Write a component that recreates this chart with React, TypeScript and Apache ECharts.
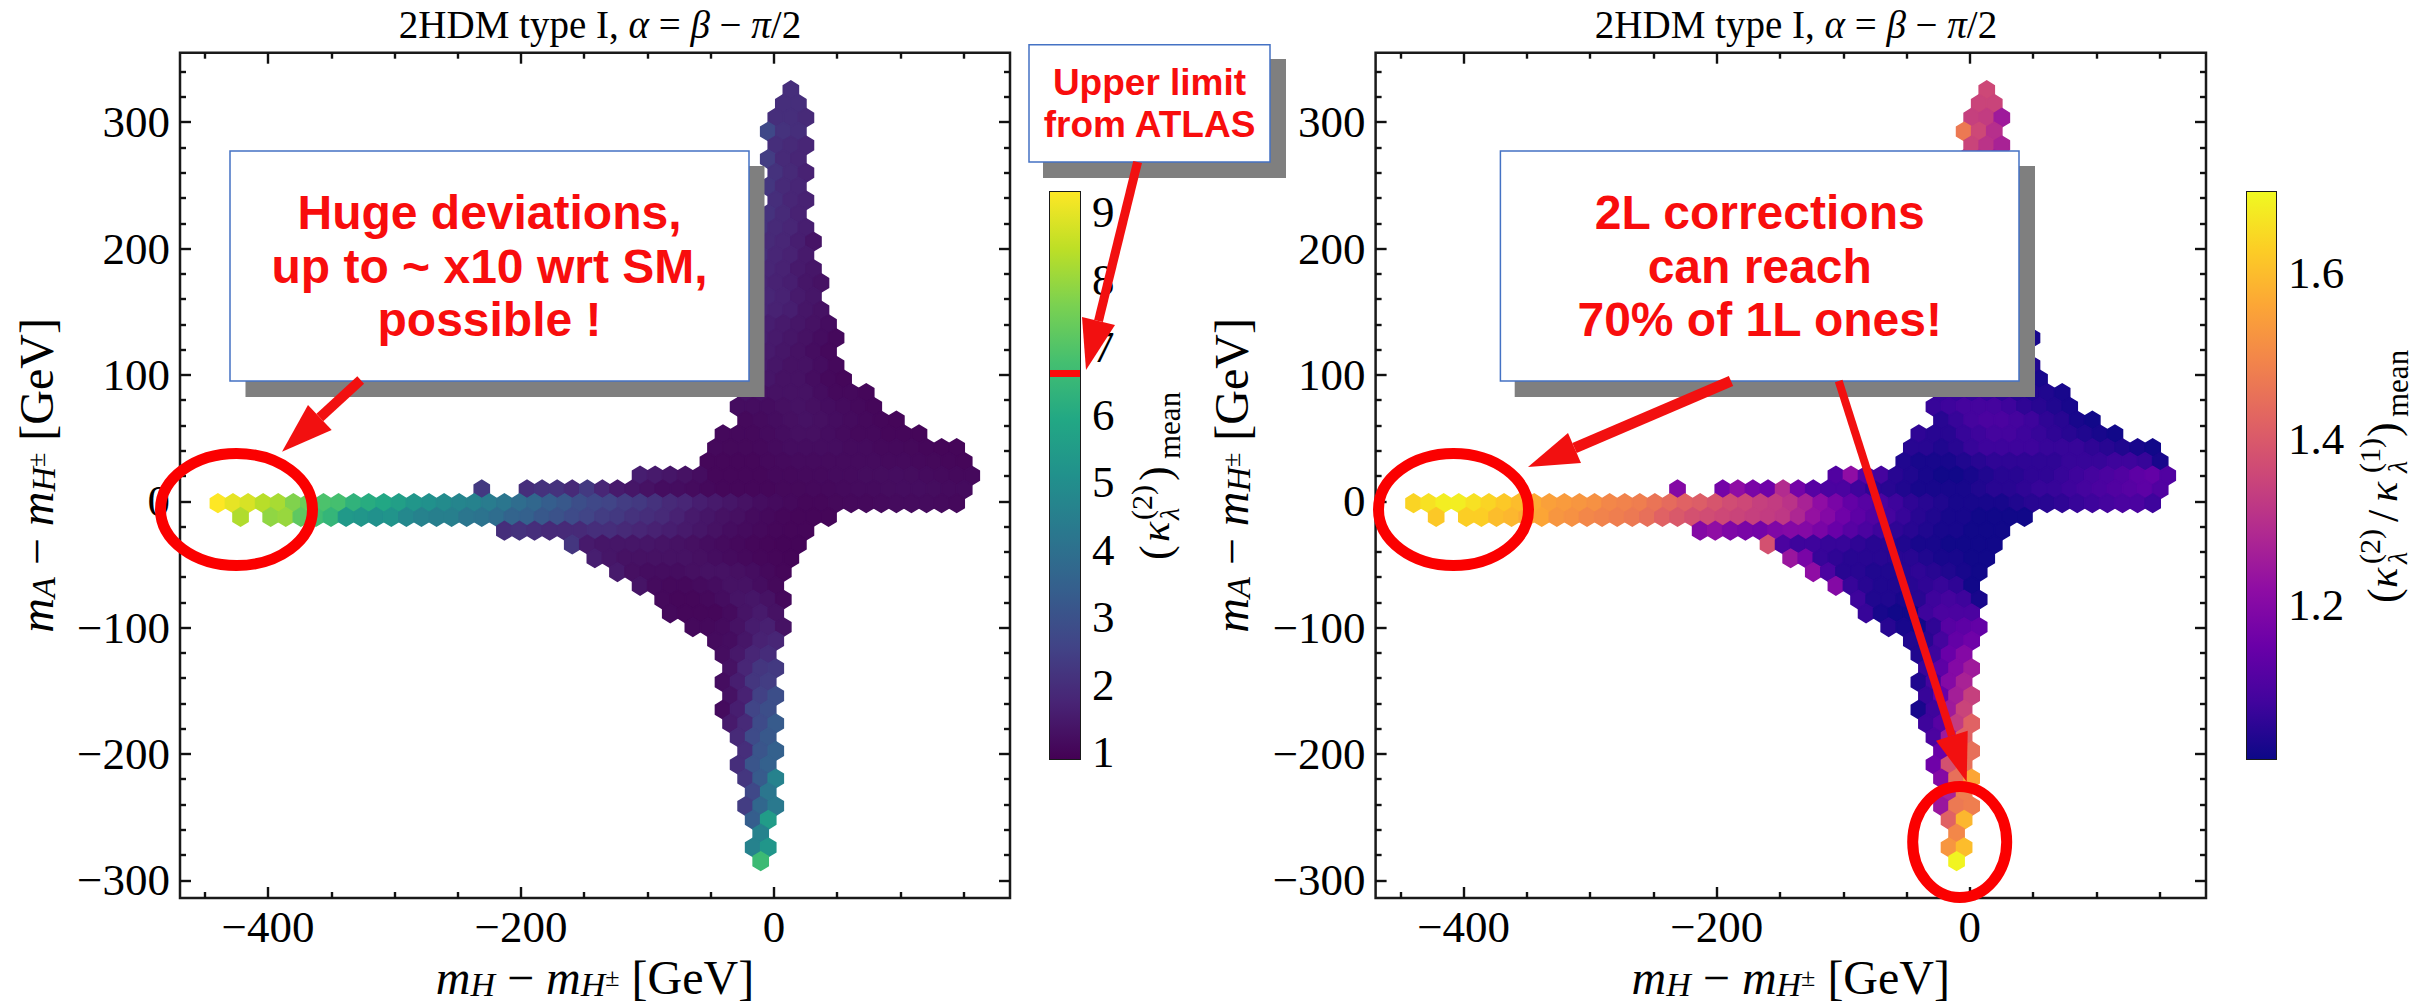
import React, { useEffect, useRef } from "react";
import * as echarts from "echarts";

const SERIF = '"Liberation Serif", serif';
const SANS = '"Liberation Sans", sans-serif';
const RED = "#f21010";

const plotTitle = "{r|2HDM type I, }{i|α}{r| = }{i|β}{r| − }{i|π}{r|/2}";
const xName = "{i|m}{s|H}{r| − }{i|m}{s|H}{t|±}{r| [GeV]}";
const yName = "{i|m}{s|A}{r| − }{i|m}{s|H}{t|±}{r| [GeV]}";

const xRange = [-469.6, 186.6];
const yRange = [-314, 355];
const xMajor = [-400, -200, 0];
const xMinor = [-450, -350, -300, -250, -150, -100, -50, 50, 100, 150];
const yMajor = [-300, -200, -100, 0, 100, 200, 300];
const yMinor = [-280, -260, -240, -220, -180, -160, -140, -120, -80, -60, -40, -20, 20, 40, 60, 80, 120, 140, 160, 180, 220, 240, 260, 280, 320, 340];

const kappaRange = [0.9, 9.3];
const kappaMajor = [1, 2, 3, 4, 5, 6, 7, 8, 9];
const kappaMinor = [1.2, 1.4, 1.6, 1.8, 2.2, 2.4, 2.6, 2.8, 3.2, 3.4, 3.6, 3.8, 4.2, 4.4, 4.6, 4.8, 5.2, 5.4, 5.6, 5.8, 6.2, 6.4, 6.6, 6.8, 7.2, 7.4, 7.6, 7.8, 8.2, 8.4, 8.6, 8.8, 9.2];
const ratioRange = [1.015, 1.698];
const ratioMajor = [1.2, 1.4, 1.6];
const ratioMinor = [1.05, 1.1, 1.15, 1.25, 1.3, 1.35, 1.45, 1.5, 1.55, 1.65];

const viridis = ["#440154", "#482475", "#414487", "#355f8d", "#2a788e", "#21918c", "#22a884", "#44bf70", "#7ad151", "#bddf26", "#fde725"];
const plasma = ["#0d0887", "#41049d", "#6a00a8", "#8f0da4", "#b12a90", "#cc4778", "#e16462", "#f2844b", "#fca636", "#fcce25", "#f0f921"];

// Hexagon lattice of the hexbin: column pitch, row pitch, centre of column 0 / row 0.
const hexDx = 11.92;
const rowDy = 10.895;
const col0X = -10.5;
const row0Y = -284.8;

// Top row is row 56; the bottom row is row 0. Starting column of every row (odd rows sit on half columns).
const rowStart = [
  2, 1.5, 1, 0.5, 1, 0.5, 1, 0.5, 1, 0.5, 0, -0.5, 0, -0.5, -1, -0.5, -1, -1.5, -1, -1.5, -1, -1.5, -1, -1.5, -1,
  -2.5, -3, -3.5, -8, -18.5, -36, -34.5, -17, -12.5, -11, -9.5, -8, -6.5, -6, -4.5, -3, -2.5, -2, -2.5, -2, -2.5,
  -2, -1.5, -1, -1.5, -1, -0.5, -1, -0.5, 0, -0.5, 0,
];

const kappaRows: (number | null)[][] = [
  [2.0],
  [2.0, 2.0],
  [2.0, 2.0, 1.9],
  [2.7, 2.1, 2.0],
  [2.0, 1.9, 1.8],
  [2.4, 1.9, 1.8],
  [2.1, 1.9, 1.7],
  [2.2, 1.9, 1.8],
  [2.0, 1.8, 1.7],
  [2.1, 1.9, 1.7],
  [2.1, 1.9, 1.8, 1.6],
  [2.2, 1.9, 1.8, 1.6, 1.35],
  [2.0, 1.8, 1.7, 1.5],
  [2.0, 1.8, 1.7, 1.5, 1.4],
  [1.9, 1.8, 1.7, 1.6, 1.4, 1.3],
  [2.0, 1.8, 1.7, 1.5, 1.4],
  [1.9, 1.8, 1.7, 1.6, 1.4, 1.3],
  [1.8, 1.7, 1.6, 1.5, 1.4, 1.3, 1.2],
  [1.7, 1.6, 1.5, 1.4, 1.3, 1.2, 1.1],
  [1.6, 1.6, 1.5, 1.4, 1.3, 1.2, 1.1],
  [1.5, 1.5, 1.4, 1.3, 1.3, 1.2, 1.1],
  [1.4, 1.4, 1.4, 1.3, 1.3, 1.2, 1.1, 1.05],
  [1.3, 1.3, 1.3, 1.3, 1.3, 1.2, 1.1, 1.1, 1.05],
  [1.2, 1.2, 1.2, 1.25, 1.3, 1.25, 1.2, 1.15, 1.1, 1.05],
  [1.1, 1.15, 1.2, 1.25, 1.3, 1.25, 1.2, 1.15, 1.1, 1.05, 1.03],
  [1.1, 1.1, 1.1, 1.15, 1.2, 1.25, 1.25, 1.2, 1.15, 1.1, 1.1, 1.05, 1.05, 1.03],
  [1.1, 1.08, 1.08, 1.1, 1.15, 1.2, 1.2, 1.2, 1.2, 1.15, 1.15, 1.1, 1.1, 1.08, 1.05, 1.03, 1.03],
  [1.05, 1.05, 1.05, 1.05, 1.1, 1.12, 1.15, 1.15, 1.15, 1.15, 1.15, 1.15, 1.12, 1.12, 1.1, 1.08, 1.05, 1.03],
  [1.6, 1.5, 1.4, 1.3, 1.2, 1.05, 1.05, 1.05, 1.05, 1.1, 1.1, 1.12, 1.12, 1.15, 1.15, 1.18, 1.18, 1.2, 1.18, 1.15, 1.12, 1.1, 1.1],
  [2.3, null, null, 2.0, 2.1, 2.1, 1.9, 2.3, 1.8, 1.5, 1.4, 1.3, 1.2, 1.2, 1.15, 1.1, 1.05, 1.05, 1.05, 1.05, 1.08, 1.08, 1.1, 1.1, 1.12, 1.15, 1.15, 1.18, 1.2, 1.2, 1.18, 1.15, 1.15],
  [9.3, 9.0, 8.8, 8.4, 8.2, 7.7, 7.4, 6.9, 6.8, 6.3, 6.1, 5.9, 5.6, 5.3, 5.1, 4.9, 4.7, 4.6, 4.4, 4.2, 3.9, 3.7, 3.4, 3.2, 2.9, 2.7, 2.6, 2.4, 2.3, 2.1, 1.9, 1.8, 1.6, 1.5, 1.4, 1.3, 1.2, 1.15, 1.1, 1.05, 1.05, 1.08, 1.1, 1.1, 1.12, 1.15, 1.15, 1.15, 1.12, 1.1],
  [8.3, null, 7.9, 8.0, 7.2, 6.7, 6.4, 5.4, 5.3, 5.1, 5.2, 4.8, 4.6, 4.5, 4.5, 4.2, 4.1, 3.9, 3.6, 3.5, 3.2, 3.0, 2.8, 2.6, 2.4, 2.3, 2.1, 2.0, 1.9, 1.7, 1.5, 1.4, 1.3, 1.25, 1.15, 1.1, 1.05, 1.02, 1.02, 1.02],
  [2.0, 2.1, 2.0, 1.9, 1.9, 1.9, 2.0, 2.0, 1.9, 1.8, 1.7, 1.6, 1.5, 1.4, 1.3, 1.2, 1.15, 1.1, 1.05, 1.02, 1.02],
  [2.2, 1.5, 1.4, 1.4, 1.4, 1.4, 1.35, 1.3, 1.25, 1.2, 1.15, 1.1, 1.05, 1.02, 1.0, 1.0],
  [1.6, 1.4, 1.3, 1.3, 1.3, 1.3, 1.3, 1.25, 1.2, 1.15, 1.1, 1.05, 1.02, 1.0],
  [1.5, 1.25, 1.2, 1.2, 1.2, 1.25, 1.3, 1.3, 1.25, 1.2, 1.1, 1.03],
  [1.35, 1.15, 1.1, 1.1, 1.15, 1.2, 1.3, 1.3, 1.2, 1.08],
  [1.1, 1.05, 1.05, 1.1, 1.2, 1.35, 1.4, 1.3, 1.1],
  [1.1, 1.05, 1.05, 1.05, 1.15, 1.35, 1.5, 1.3],
  [1.1, 1.1, 1.15, 1.3, 1.55, 1.65, 1.3],
  [1.15, 1.2, 1.4, 1.7, 1.8],
  [1.2, 1.45, 1.8, 1.95],
  [1.3, 1.8, 2.2, 2.3],
  [1.2, 1.6, 2.2, 2.4],
  [1.3, 1.7, 2.5, 2.9],
  [1.15, 1.6, 2.6, 2.9],
  [1.5, 1.9, 2.8, 3.3],
  [1.9, 2.8, 3.2],
  [2.0, 3.1, 3.5],
  [2.0, 3.1, 3.5],
  [2.2, 3.3, 4.6],
  [2.7, 4.2],
  [2.4, 3.7, 4.3],
  [3.4, 5.5],
  [4.6],
  [4.6, 5.3],
  [6.6],
];

const ratioRows: (number | null)[][] = [
  [1.36],
  [1.35, 1.35],
  [1.34, 1.33, 1.25],
  [1.47, 1.36, 1.3],
  [1.35, 1.31, 1.27],
  [1.33, 1.3, 1.26],
  [1.3, 1.27, 1.24],
  [1.3, 1.26, 1.22],
  [1.27, 1.23, 1.2],
  [1.27, 1.22, 1.18],
  [1.25, 1.2, 1.17, 1.14],
  [1.25, 1.2, 1.16, 1.13, 1.1],
  [1.18, 1.14, 1.12, 1.09],
  [1.2, 1.15, 1.12, 1.09, 1.07],
  [1.17, 1.14, 1.11, 1.09, 1.07, 1.05],
  [1.12, 1.1, 1.08, 1.06, 1.05],
  [1.12, 1.1, 1.09, 1.07, 1.05, 1.04],
  [1.1, 1.09, 1.08, 1.07, 1.06, 1.05, 1.04],
  [1.09, 1.08, 1.07, 1.06, 1.05, 1.05, 1.03],
  [1.09, 1.08, 1.07, 1.06, 1.06, 1.05, 1.04],
  [1.08, 1.08, 1.07, 1.07, 1.06, 1.05, 1.04],
  [1.07, 1.07, 1.07, 1.07, 1.06, 1.05, 1.04, 1.03],
  [1.07, 1.07, 1.07, 1.07, 1.06, 1.05, 1.04, 1.04, 1.03],
  [1.07, 1.08, 1.09, 1.09, 1.09, 1.08, 1.06, 1.05, 1.04, 1.03],
  [1.05, 1.07, 1.09, 1.1, 1.1, 1.09, 1.08, 1.06, 1.05, 1.03, 1.02],
  [1.06, 1.05, 1.05, 1.07, 1.08, 1.09, 1.09, 1.08, 1.07, 1.06, 1.05, 1.04, 1.03, 1.02],
  [1.05, 1.05, 1.04, 1.05, 1.07, 1.08, 1.08, 1.08, 1.08, 1.07, 1.07, 1.07, 1.06, 1.05, 1.04, 1.03, 1.02],
  [1.04, 1.03, 1.03, 1.03, 1.04, 1.05, 1.06, 1.06, 1.06, 1.06, 1.06, 1.07, 1.07, 1.07, 1.08, 1.08, 1.07, 1.03],
  [1.11, 1.22, 1.12, 1.09, 1.05, 1.04, 1.03, 1.02, 1.02, 1.03, 1.04, 1.05, 1.05, 1.06, 1.06, 1.07, 1.08, 1.09, 1.1, 1.11, 1.13, 1.14, 1.11],
  [1.2, null, null, 1.17, 1.22, 1.18, 1.16, 1.29, 1.17, 1.12, 1.1, 1.1, 1.08, 1.06, 1.05, 1.04, 1.03, 1.03, 1.03, 1.03, 1.04, 1.05, 1.05, 1.06, 1.07, 1.07, 1.08, 1.09, 1.1, 1.11, 1.12, 1.13, 1.11],
  [1.64, 1.66, 1.68, 1.68, 1.66, 1.64, 1.62, 1.6, 1.57, 1.55, 1.54, 1.53, 1.52, 1.5, 1.49, 1.48, 1.46, 1.44, 1.42, 1.41, 1.39, 1.37, 1.36, 1.34, 1.33, 1.31, 1.27, 1.22, 1.18, 1.14, 1.12, 1.1, 1.08, 1.06, 1.05, 1.04, 1.03, 1.03, 1.03, 1.03, 1.04, 1.05, 1.05, 1.06, 1.07, 1.08, 1.09, 1.1, 1.1, 1.08],
  [1.62, null, 1.63, 1.63, 1.6, 1.59, 1.57, 1.56, 1.53, 1.52, 1.5, 1.49, 1.48, 1.47, 1.45, 1.42, 1.4, 1.38, 1.37, 1.36, 1.35, 1.34, 1.33, 1.32, 1.28, 1.23, 1.2, 1.16, 1.13, 1.11, 1.09, 1.07, 1.05, 1.04, 1.03, 1.03, 1.02, 1.02, 1.02, 1.02],
  [1.2, 1.22, 1.19, 1.18, 1.17, 1.19, 1.2, 1.2, 1.18, 1.15, 1.12, 1.1, 1.08, 1.06, 1.05, 1.04, 1.03, 1.03, 1.02, 1.02, 1.02],
  [1.38, 1.1, 1.08, 1.08, 1.07, 1.07, 1.06, 1.05, 1.05, 1.04, 1.03, 1.03, 1.02, 1.02, 1.02, 1.02],
  [1.24, 1.18, 1.07, 1.06, 1.05, 1.05, 1.05, 1.05, 1.05, 1.04, 1.03, 1.03, 1.02, 1.02],
  [1.22, 1.1, 1.05, 1.05, 1.04, 1.04, 1.05, 1.06, 1.05, 1.04, 1.03, 1.02],
  [1.2, 1.07, 1.05, 1.04, 1.04, 1.05, 1.06, 1.07, 1.06, 1.02],
  [1.08, 1.04, 1.04, 1.03, 1.05, 1.08, 1.09, 1.08, 1.03],
  [1.07, 1.03, 1.02, 1.02, 1.08, 1.1, 1.1, 1.1],
  [1.05, 1.03, 1.02, 1.06, 1.12, 1.13, 1.14],
  [1.04, 1.05, 1.09, 1.14, 1.16],
  [1.04, 1.08, 1.15, 1.2],
  [1.07, 1.13, 1.2, 1.25],
  [1.04, 1.09, 1.2, 1.27],
  [1.07, 1.15, 1.26, 1.34],
  [1.03, 1.08, 1.25, 1.35],
  [1.08, 1.12, 1.33, 1.42],
  [1.1, 1.25, 1.42],
  [1.15, 1.37, 1.45],
  [1.16, 1.38, 1.45],
  [1.2, 1.45, 1.56],
  [1.27, 1.48],
  [1.24, 1.47, 1.48],
  [1.42, 1.59],
  [1.5],
  [1.53, 1.6],
  [1.69],
];

function hexCells(rows: (number | null)[][]) {
  const cells: number[][] = [];
  rows.forEach((values, i) => {
    const r = rows.length - 1 - i;
    values.forEach((v, k) => {
      if (v !== null) cells.push([col0X + (rowStart[i] + k) * hexDx, row0Y + r * rowDy, v]);
    });
  });
  return cells;
}

const richBase = {
  r: { fontFamily: SERIF, fontSize: 48, fontWeight: "normal", color: "#000" },
  i: { fontFamily: SERIF, fontSize: 48, fontStyle: "italic", fontWeight: "normal", color: "#000" },
  s: { fontFamily: SERIF, fontSize: 34, fontStyle: "italic", fontWeight: "normal", color: "#000", padding: [14, 0, 0, 0] },
  t: { fontFamily: SERIF, fontSize: 26, fontWeight: "normal", color: "#000" },
};
const richTitle = {
  r: { fontFamily: SERIF, fontSize: 39, fontWeight: "normal", color: "#000" },
  i: { fontFamily: SERIF, fontSize: 39, fontStyle: "italic", fontWeight: "normal", color: "#000" },
};

const minus = (v: number) => String(v).replace("-", "−");
const TICK = { color: "#111", width: 2.4 };

function tickAxis(common: any, position: string, ticks: number[], length: number, extra: any = {}) {
  return {
    type: "value",
    position,
    axisLine: { show: false, onZero: false },
    splitLine: { show: false },
    axisLabel: { show: false },
    axisTick: { show: true, inside: true, length, lineStyle: TICK, customValues: ticks },
    ...common,
    ...extra,
  };
}

function plotAxes(gridIndex: number) {
  const cx = { gridIndex, min: xRange[0], max: xRange[1] };
  const cy = { gridIndex, min: yRange[0], max: yRange[1] };
  const labelStyle = { show: true, fontFamily: SERIF, fontSize: 45, color: "#000", formatter: minus };
  const xAxes = [
    tickAxis(cx, "bottom", xMajor, 11, {
      axisLabel: { ...labelStyle, margin: 6, customValues: xMajor },
      name: xName,
      nameLocation: "middle",
      nameGap: 46,
      nameTextStyle: { rich: richBase },
    }),
    tickAxis(cx, "top", xMajor, 11),
    tickAxis(cx, "bottom", xMinor, 6),
    tickAxis(cx, "top", xMinor, 6),
  ];
  const yAxes = [
    tickAxis(cy, "left", yMajor, 11, {
      axisLabel: { ...labelStyle, margin: 10, customValues: yMajor },
      name: yName,
      nameLocation: "middle",
      nameRotate: 90,
      nameGap: 120,
      nameTextStyle: { rich: richBase },
    }),
    tickAxis(cy, "right", yMajor, 11),
    tickAxis(cy, "left", yMinor, 6),
    tickAxis(cy, "right", yMinor, 6),
  ];
  return { xAxes, yAxes };
}

function barAxes(gridIndex: number, range: number[], major: number[], minor: number[], fmt: (v: number) => string) {
  const cy = { gridIndex, min: range[0], max: range[1] };
  return {
    x: { type: "value", gridIndex, min: 0, max: 1, show: false },
    y: [
      tickAxis(cy, "right", major, 9, {
        axisLabel: { show: true, fontFamily: SERIF, fontSize: 45, color: "#000", margin: 12, customValues: major, formatter: fmt },
      }),
      tickAxis(cy, "right", minor, 4),
    ],
  };
}

const renderHex = (params: any, api: any) => {
  const x = api.coord([api.value(0), api.value(1)]);
  const s = api.size([hexDx, rowDy]);
  const w = s[0] / 2;
  const u = s[1] / 3;
  const c = api.visual("color");
  return {
    type: "polygon",
    shape: {
      points: [
        [x[0] + w, x[1] - u],
        [x[0] + w, x[1] + u],
        [x[0], x[1] + 2 * u],
        [x[0] - w, x[1] + u],
        [x[0] - w, x[1] - u],
        [x[0], x[1] - 2 * u],
      ],
    },
    style: { fill: c, stroke: c, lineWidth: 1.6 },
  };
};

const gradientBar = (stops: string[]) => (params: any, api: any) => {
  const a = api.coord([0, api.value(0)]);
  const b = api.coord([1, api.value(1)]);
  return {
    type: "rect",
    shape: { x: a[0], y: b[1], width: b[0] - a[0], height: a[1] - b[1] },
    style: {
      fill: new echarts.graphic.LinearGradient(
        0, 1, 0, 0,
        stops.map((color, i) => ({ offset: i / (stops.length - 1), color }))
      ),
    },
  };
};

const Z = 100;
const txt = (text: string, x: number, y: number, fontSize: number, italic = false) => ({
  type: "text",
  x,
  y,
  z: Z,
  style: { text, fontFamily: SERIF, fontSize, fontStyle: italic ? "italic" : "normal", fill: "#000", align: "left", verticalAlign: "middle" },
});

function callout(x0: number, y0: number, x1: number, y1: number, sx0: number, sy0: number, sx1: number, sy1: number, text: string, fontSize: number, lineHeight: number) {
  return [
    { type: "rect", z: Z, shape: { x: sx0, y: sy0, width: sx1 - sx0, height: sy1 - sy0 }, style: { fill: "#7f7f7f" } },
    { type: "rect", z: Z, shape: { x: x0, y: y0, width: x1 - x0, height: y1 - y0 }, style: { fill: "#fff", stroke: "#4472c4", lineWidth: 1.5 } },
    {
      type: "text",
      z: Z,
      x: (x0 + x1) / 2,
      y: (y0 + y1) / 2,
      style: { text, fontFamily: SANS, fontWeight: "bold", fontSize, lineHeight, fill: "#f80d0d", align: "center", verticalAlign: "middle" },
    },
  ];
}

function arrow(x1: number, y1: number, tipX: number, tipY: number, ax: number, ay: number, bx: number, by: number, width: number) {
  return [
    { type: "line", z: Z + 1, shape: { x1, y1, x2: (ax + bx) / 2, y2: (ay + by) / 2 }, style: { stroke: RED, lineWidth: width } },
    { type: "polygon", z: Z + 1, shape: { points: [[tipX, tipY], [ax, ay], [bx, by]] }, style: { fill: RED } },
  ];
}

const ring = (cx: number, cy: number, rx: number, ry: number) => ({
  type: "ellipse",
  z: Z + 2,
  shape: { cx, cy, rx, ry },
  style: { fill: "none", stroke: "#fb0000", lineWidth: 11 },
});

export default function App() {
  const ref = useRef<HTMLDivElement>(null);
  useEffect(() => {
    const chart = echarts.init(ref.current!, null, { renderer: "svg" });
    const left = plotAxes(0);
    const right = plotAxes(1);
    const barL = barAxes(2, kappaRange, kappaMajor, kappaMinor, (v) => String(v));
    const barR = barAxes(3, ratioRange, ratioMajor, ratioMinor, (v) => v.toFixed(1));
    const gridBase = { show: true, borderColor: "#1a1a1a", outerBoundsMode: "none", containLabel: false };
    chart.setOption({
      animation: false,
      backgroundColor: "#fff",
      title: [
        { text: plotTitle, left: 595, top: 0, textAlign: "center", textStyle: { rich: richTitle } },
        { text: plotTitle, left: 1791, top: 0, textAlign: "center", textStyle: { rich: richTitle } },
      ],
      grid: [
        { ...gridBase, left: 180, top: 52.7, width: 830, height: 845.3, borderWidth: 2.5, backgroundColor: "#fff" },
        { ...gridBase, left: 1375.6, top: 52.7, width: 830.4, height: 845.3, borderWidth: 2.5, backgroundColor: "#fff" },
        { ...gridBase, left: 1050, top: 192, width: 30, height: 567, borderWidth: 2 },
        { ...gridBase, left: 2247, top: 192, width: 29, height: 567, borderWidth: 2 },
      ],
      xAxis: [...left.xAxes, ...right.xAxes, barL.x, barR.x],
      yAxis: [...left.yAxes, ...right.yAxes, ...barL.y, ...barR.y],
      visualMap: [
        { type: "continuous", show: false, seriesIndex: 0, dimension: 2, min: kappaRange[0], max: kappaRange[1], inRange: { color: viridis } },
        { type: "continuous", show: false, seriesIndex: 1, dimension: 2, min: ratioRange[0], max: ratioRange[1], inRange: { color: plasma } },
      ],
      series: [
        { type: "custom", xAxisIndex: 0, yAxisIndex: 0, renderItem: renderHex, data: hexCells(kappaRows), encode: { x: 0, y: 1 }, silent: true, z: 3 },
        { type: "custom", xAxisIndex: 4, yAxisIndex: 4, renderItem: renderHex, data: hexCells(ratioRows), encode: { x: 0, y: 1 }, silent: true, z: 3 },
        { type: "custom", xAxisIndex: 8, yAxisIndex: 8, renderItem: gradientBar(viridis), data: [[kappaRange[0], kappaRange[1]]], encode: { y: [0, 1] }, silent: true, z: 1 },
        { type: "custom", xAxisIndex: 9, yAxisIndex: 10, renderItem: gradientBar(plasma), data: [[ratioRange[0], ratioRange[1]]], encode: { y: [0, 1] }, silent: true, z: 1 },
      ],
      graphic: [
        { type: "rect", z: Z, shape: { x: 1050, y: 370, width: 30, height: 7 }, style: { fill: "#ff0a0a" } },
        ...callout(230, 151, 749, 381, 245.5, 166, 764.5, 397, "Huge deviations,\nup to ~ x10 wrt SM,\npossible !", 48, 53.5),
        ...callout(1029, 44.7, 1270, 162, 1043, 59, 1286, 178, "Upper limit\nfrom ATLAS", 37, 42),
        ...callout(1500.4, 151, 2019, 381, 1514.7, 166, 2035, 397, "2L corrections\ncan reach\n70% of 1L ones!", 48, 53.5),
        ...arrow(360.7, 380, 282, 451.7, 308, 405, 331.7, 430, 10),
        ...arrow(1137.6, 162, 1086, 370, 1082, 317, 1115, 325, 9),
        ...arrow(1731, 381, 1528, 467, 1568, 433, 1581, 463, 11),
        ...arrow(1838.7, 381, 1966.7, 781.7, 1936, 740.7, 1967.7, 730.7, 8),
        ring(236.5, 509.5, 76, 56),
        ring(1453.5, 509.5, 75, 56),
        ring(1959.7, 842, 47, 55.5),
        {
          type: "group",
          x: 1155,
          y: 475,
          rotation: Math.PI / 2,
          children: [
            txt("(", -85, 0, 44),
            txt("κ", -67, 0, 42, true),
            txt("(2)", -45, -14, 30),
            txt("λ", -45, 14, 28, true),
            txt(")", -6, 0, 44),
            txt("mean", 16, 14, 31),
          ],
        },
        {
          type: "group",
          x: 2383,
          y: 475,
          rotation: Math.PI / 2,
          children: [
            txt("(", -128, 0, 44),
            txt("κ", -113, 0, 42, true),
            txt("(2)", -89, -14, 30),
            txt("λ", -89, 14, 28, true),
            txt("/", -47, 0, 44),
            txt("κ", -27, 0, 42, true),
            txt("(1)", 2, -14, 30),
            txt("λ", 2, 14, 28, true),
            txt(")", 38, 0, 44),
            txt("mean", 58, 14, 31),
          ],
        },
      ],
    });
    return () => chart.dispose();
  }, []);
  return <div ref={ref} style={{ position: "absolute", left: 0, top: 0, width: 2429, height: 1004 }} />;
}
